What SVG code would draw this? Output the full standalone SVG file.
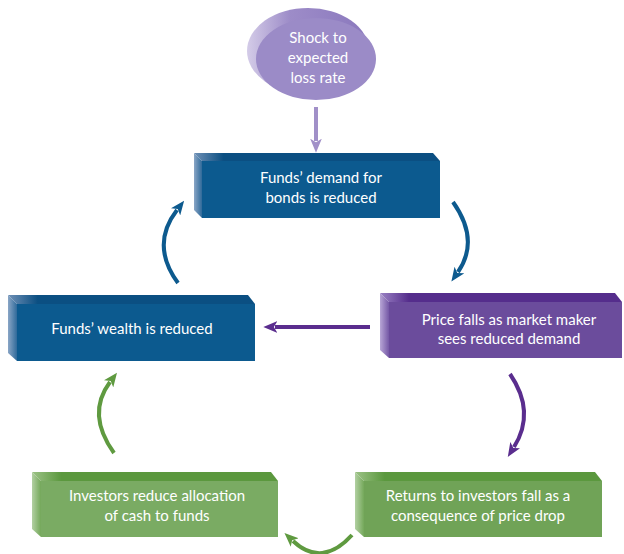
<svg xmlns="http://www.w3.org/2000/svg" width="624" height="554" viewBox="0 0 624 554">
<style>
.t{font-family:"Lato","Liberation Sans",sans-serif;font-size:15px;fill:#ffffff;text-anchor:middle}
.c{fill:none;stroke-width:4}
</style>
<defs>
<linearGradient id="gbS" x1="0" y1="0" x2="1" y2="0"><stop offset="0" stop-color="#8aa6c6"/><stop offset="1" stop-color="#2f6a9a"/></linearGradient>
<linearGradient id="gbT" x1="0" y1="0" x2="1" y2="0"><stop offset="0" stop-color="#6f90b6"/><stop offset="0.12" stop-color="#0b4f82"/><stop offset="1" stop-color="#0b4f82"/></linearGradient>
<linearGradient id="gpS" x1="0" y1="0" x2="1" y2="0"><stop offset="0" stop-color="#b8a6d6"/><stop offset="1" stop-color="#7558a6"/></linearGradient>
<linearGradient id="gpT" x1="0" y1="0" x2="1" y2="0"><stop offset="0" stop-color="#9a82c4"/><stop offset="0.12" stop-color="#552d8c"/><stop offset="1" stop-color="#552d8c"/></linearGradient>
<linearGradient id="ggS" x1="0" y1="0" x2="1" y2="0"><stop offset="0" stop-color="#b2d0a2"/><stop offset="1" stop-color="#74a85a"/></linearGradient>
<linearGradient id="ggT" x1="0" y1="0" x2="1" y2="0"><stop offset="0" stop-color="#9cc286"/><stop offset="0.12" stop-color="#5b983e"/><stop offset="1" stop-color="#5b983e"/></linearGradient>
<linearGradient id="geB" x1="0" y1="0" x2="1" y2="0"><stop offset="0" stop-color="#d4cce8"/><stop offset="0.35" stop-color="#9d8cc8"/><stop offset="1" stop-color="#8a78bd"/></linearGradient>
<marker id="mb" viewBox="0 0 12 10" markerWidth="14" markerHeight="12" refX="2" refY="5" orient="auto" markerUnits="userSpaceOnUse"><path d="M0,0 L12,5 L0,10 L3,5 z" fill="#0d5a8e"/></marker>
<marker id="mp" viewBox="0 0 12 10" markerWidth="14" markerHeight="12" refX="2" refY="5" orient="auto" markerUnits="userSpaceOnUse"><path d="M0,0 L12,5 L0,10 L3,5 z" fill="#5a2d8e"/></marker>
<marker id="ml" viewBox="0 0 12 10" markerWidth="14" markerHeight="12" refX="2" refY="5" orient="auto" markerUnits="userSpaceOnUse"><path d="M0,0 L12,5 L0,10 L3,5 z" fill="#a190c8"/></marker>
<marker id="mg" viewBox="0 0 12 10" markerWidth="14" markerHeight="12" refX="2" refY="5" orient="auto" markerUnits="userSpaceOnUse"><path d="M0,0 L12,5 L0,10 L3,5 z" fill="#5f9a40"/></marker>
</defs>

<g id="shock">
<ellipse cx="308" cy="51" rx="61" ry="43" fill="url(#geB)"/>
<ellipse cx="316" cy="59" rx="60" ry="41" fill="#9b8bc7"/>
<text class="t" x="318" y="43">Shock to</text>
<text class="t" x="318" y="63">expected</text>
<text class="t" x="318" y="83">loss rate</text>
</g>

<g id="demand">
<polygon points="194,153 433,153 440,161 202,161" fill="url(#gbT)"/>
<polygon points="194,153 202,161 202,218 194,210" fill="url(#gbS)"/>
<rect x="202" y="161" width="238" height="57" fill="#0c5a8f"/>
<text class="t" x="321" y="183">Funds’ demand for</text>
<text class="t" x="321" y="203">bonds is reduced</text>
</g>

<g id="price">
<polygon points="380,293 615,293 622,302 389,302" fill="url(#gpT)"/>
<polygon points="380,293 389,302 389,358 380,350" fill="url(#gpS)"/>
<rect x="389" y="302" width="233" height="56" fill="#6b4c9c"/>
<text class="t" x="509" y="325">Price falls as market maker</text>
<text class="t" x="509" y="344">sees reduced demand</text>
</g>

<g id="wealth">
<polygon points="8,295 248,295 255,304 17,304" fill="url(#gbT)"/>
<polygon points="8,295 17,304 17,361 8,353" fill="url(#gbS)"/>
<rect x="17" y="304" width="238" height="57" fill="#0c5a8f"/>
<text class="t" x="132" y="334">Funds’ wealth is reduced</text>
</g>

<g id="investors">
<polygon points="32,472 271,472 278,481 41,481" fill="url(#ggT)"/>
<polygon points="32,472 41,481 41,537 32,529" fill="url(#ggS)"/>
<rect x="41" y="481" width="237" height="56" fill="#7aab63"/>
<text class="t" x="157" y="501">Investors reduce allocation</text>
<text class="t" x="157" y="521">of cash to funds</text>
</g>

<g id="returns">
<polygon points="355,472 595,472 602,481 364,481" fill="url(#ggT)"/>
<polygon points="355,472 364,481 364,537 355,529" fill="url(#ggS)"/>
<rect x="364" y="481" width="238" height="56" fill="#70a357"/>
<text class="t" x="478" y="501">Returns to investors fall as a</text>
<text class="t" x="478" y="521">consequence of price drop</text>
</g>

<g id="connectors">
<path d="M316,107 L316,141" class="c" stroke="#a190c8" marker-end="url(#ml)"/>
<path d="M453,202 Q480,240 458,272" class="c" stroke="#0d5a8e" marker-end="url(#mb)"/>
<path d="M178,283 Q150,245 177,210" class="c" stroke="#0d5a8e" marker-end="url(#mb)"/>
<path d="M370,327 L275,327" class="c" stroke="#5a2d8e" stroke-width="3" marker-end="url(#mp)"/>
<path d="M510,374 Q536,412 514,447" class="c" stroke="#5a2d8e" marker-end="url(#mp)"/>
<path d="M352,535 Q322,568 293,541" class="c" stroke="#5f9a40" marker-end="url(#mg)"/>
<path d="M114,453 Q86,414 110,382" class="c" stroke="#5f9a40" marker-end="url(#mg)"/>
</g>
</svg>
